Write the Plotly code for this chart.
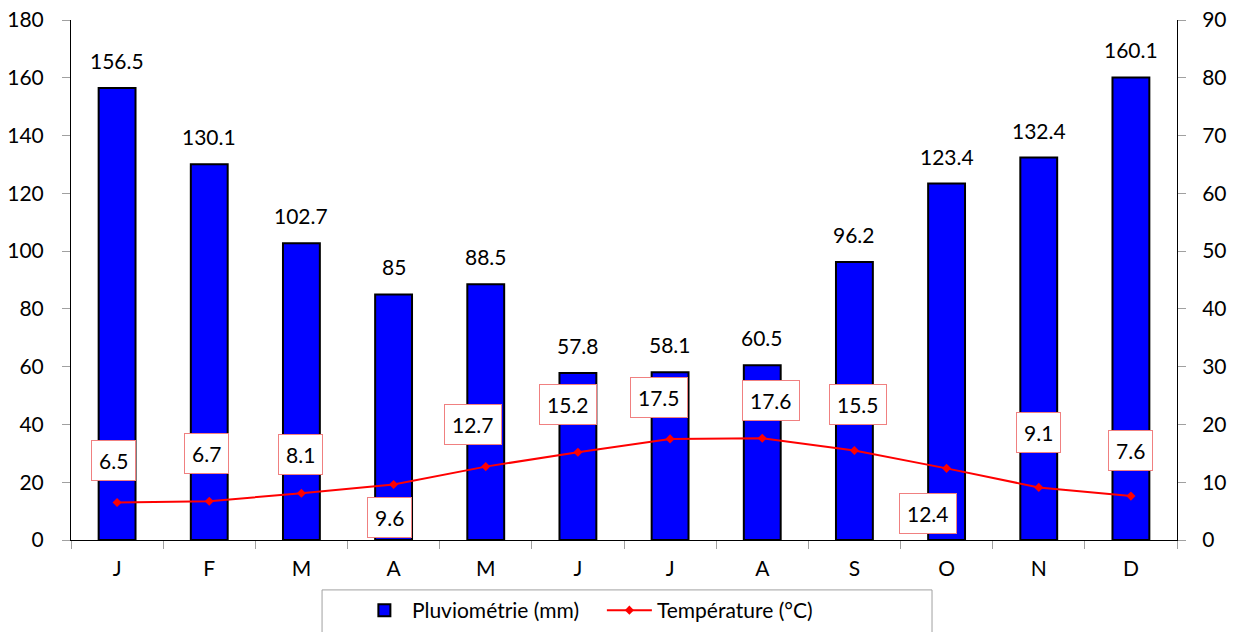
import plotly.graph_objects as go

months = ["J", "F", "M", "A", "M", "J", "J", "A", "S", "O", "N", "D"]
rain = [156.5, 130.1, 102.7, 85, 88.5, 57.8, 58.1, 60.5, 96.2, 123.4, 132.4, 160.1]
temp = [6.5, 6.7, 8.1, 9.6, 12.7, 15.2, 17.5, 17.6, 15.5, 12.4, 9.1, 7.6]

# label offsets (pixels) for temperature labels, as placed in the reference
t_xshift = [-4, -3, -1, -4, -13, -10, -11, 9, 4, -19, 0, 0]
t_yshift = [42, 48, 39, -33, 42, 48, 41, 38, 46, -45, 55, 46]

FONT = "Lato, 'Open Sans', sans-serif"
FS = 21
xs = list(range(len(months)))

fig = go.Figure()
fig.add_trace(go.Bar(
    x=xs, y=rain, name="Pluviométrie (mm)",
    marker=dict(color="#0000FF", line=dict(color="black", width=2)),
    width=0.4, yaxis="y",
))
fig.add_trace(go.Scatter(
    x=xs, y=temp, name="Température (°C)", mode="lines+markers",
    line=dict(color="#FF0000", width=2),
    marker=dict(symbol="diamond", size=7, color="#FF0000"),
    yaxis="y2",
))

ann = []
for i, v in enumerate(rain):
    ann.append(dict(x=xs[i], y=v, xref="x", yref="y", text=f"{v:g}",
                    showarrow=False, yanchor="bottom", yshift=13,
                    font=dict(family=FONT, size=FS, color="black")))
for i, v in enumerate(temp):
    ann.append(dict(x=xs[i], y=v, xref="x", yref="y2", text=f"{v:g}",
                    showarrow=False, yanchor="middle", xanchor="center",
                    xshift=t_xshift[i], yshift=t_yshift[i],
                    bgcolor="white", bordercolor="#F08080", borderwidth=1,
                    borderpad=7,
                    font=dict(family=FONT, size=FS, color="black")))

fig.update_layout(
    width=1233, height=632,
    margin=dict(l=71, r=56, t=20, b=92, autoexpand=False),
    paper_bgcolor="white", plot_bgcolor="white",
    font=dict(family=FONT, size=FS, color="black"),
    showlegend=True,
    legend=dict(orientation="h", x=0.48, xanchor="center", xref="paper",
                y=1 - 590 / 632, yanchor="top", yref="container",
                borderwidth=0, bgcolor="rgba(0,0,0,0)",
                font=dict(family=FONT, size=FS), entrywidth=185, itemwidth=45),
    xaxis=dict(tickmode="array", tickvals=xs, ticktext=months,
               range=[-0.5, 11.5], showline=True, linecolor="black", linewidth=1,
               ticks="", showgrid=False, zeroline=False, ticklabelstandoff=10),
    yaxis=dict(range=[0, 180], dtick=20, showline=True, linecolor="black",
               linewidth=1, ticks="outside", ticklen=8, tickcolor="#A0A0A0",
               showgrid=False, zeroline=False, ticklabelstandoff=14),
    yaxis2=dict(range=[0, 90], dtick=10, overlaying="y", side="right",
                showline=True, linecolor="black", linewidth=1,
                ticks="outside", ticklen=8, tickcolor="#A0A0A0",
                showgrid=False, zeroline=False, ticklabelstandoff=12),
    annotations=ann,
    shapes=[dict(type="rect", xref="paper", yref="paper",
                 x0=0.227, x1=0.7785, y0=-0.096, y1=-0.2,
                 line=dict(color="#A0A0A0", width=1), fillcolor="rgba(0,0,0,0)",
                 layer="below")],
    bargap=0.6,
)

fig.update_xaxes(minor=dict(tickmode="array", tickvals=[i - 0.5 for i in range(13)],
                            ticks="outside", ticklen=8, tickcolor="#A0A0A0"))

fig.write_html("out.html", config={"displayModeBar": False},
               post_script="document.body.style.margin='0';")
